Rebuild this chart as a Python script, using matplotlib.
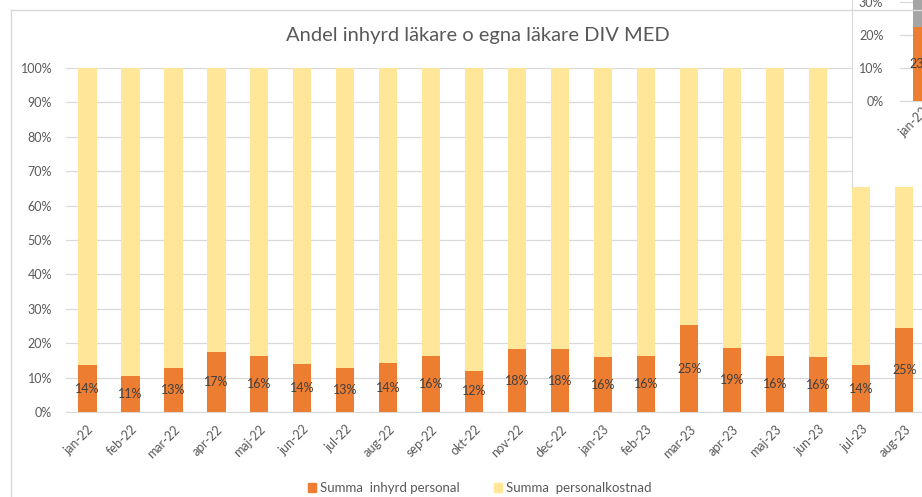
import matplotlib.pyplot as plt
from matplotlib.patches import Patch
from matplotlib.ticker import PercentFormatter

plt.rcParams['font.family'] = ['Lato', 'DejaVu Sans']

months = ["jan-22", "feb-22", "mar-22", "apr-22", "maj-22", "jun-22", "jul-22",
          "aug-22", "sep-22", "okt-22", "nov-22", "dec-22", "jan-23", "feb-23",
          "mar-23", "apr-23", "maj-23", "jun-23", "jul-23", "aug-23"]
inhyrd = [0.136, 0.106, 0.128, 0.174, 0.162, 0.140, 0.128, 0.141, 0.163, 0.120,
          0.182, 0.182, 0.159, 0.163, 0.252, 0.187, 0.163, 0.159, 0.136, 0.245]
labels = ["14%", "11%", "13%", "17%", "16%", "14%", "13%", "14%", "16%", "12%",
          "18%", "18%", "16%", "16%", "25%", "19%", "16%", "16%", "14%", "25%"]
egna = [1 - v for v in inhyrd]

# the chart window lying over the top right corner
over_cat = ["jan-22"]
over_inhyrd = [0.225]
over_label = ["23%"]
over_rest = [0.2]

ORANGE = "#ED7D31"
YELLOW = "#FFE699"
GREY = "#A5A5A5"
GRID = "#D9D9D9"
TXT = "#595959"

W, H = 922, 497
fig = plt.figure(figsize=(W / 100, H / 100), dpi=100)

def box(x0, y0, x1, y1):
    return [x0 / W, 1 - y1 / H, (x1 - x0) / W, (y1 - y0) / H]

ax = fig.add_axes(box(66, 68, 922, 412))
x = range(len(months))
ax.bar(x, inhyrd, width=0.42, color=ORANGE, zorder=3)
ax.bar(x, egna, bottom=inhyrd, width=0.42, color=YELLOW, zorder=3)
for i, v in enumerate(inhyrd):
    ax.text(i, v / 2, labels[i], ha="center", va="center", fontsize=9,
            color="#404040", zorder=4)

ax.set_xlim(-0.5, 19.41)
ax.set_ylim(0, 1)
ax.set_yticks([i / 10 for i in range(11)])
ax.yaxis.set_major_formatter(PercentFormatter(1.0, decimals=0))
ax.set_xticks(list(x))
ax.set_xticklabels(months, rotation=45, ha="right", rotation_mode="anchor")
ax.tick_params(axis="both", length=0, labelsize=9, colors=TXT)
ax.tick_params(axis="y", pad=10)
ax.tick_params(axis="x", pad=8)
ax.grid(axis="y", color=GRID, linewidth=0.9, zorder=0)
for s in ["top", "right", "left"]:
    ax.spines[s].set_visible(False)
ax.spines["bottom"].set_color(GRID)

fig.text(478 / W, 1 - 35 / H, "Andel inhyrd läkare o egna läkare DIV MED",
         ha="center", va="center", fontsize=14.5, color=TXT)

fig.legend(handles=[Patch(color=ORANGE, label="Summa  inhyrd personal"),
                    Patch(color=YELLOW, label="Summa  personalkostnad")],
           loc="center", bbox_to_anchor=(0.52, 1 - 488 / H), ncol=2, frameon=False,
           fontsize=9.5, handlelength=0.6, handleheight=0.6, handletextpad=0.3,
           columnspacing=2.6, labelcolor=TXT)

# chart border
fig.add_artist(plt.Line2D([11 / W, 11 / W], [0, 1 - 10 / H], color=GRID, lw=1))
fig.add_artist(plt.Line2D([11 / W, 1], [1 - 10 / H, 1 - 10 / H], color=GRID, lw=1))

# overlapping chart in the corner
cover = fig.add_axes(box(852, 0, 922, 187))
cover.set_facecolor("white")
cover.set_xticks([])
cover.set_yticks([])
for s in ["top", "right", "bottom"]:
    cover.spines[s].set_visible(False)
cover.spines["left"].set_color(GRID)

ax2 = fig.add_axes(box(900, 0, 922, 101))
ax2.bar(range(1), over_inhyrd, width=0.42, color=ORANGE, zorder=3)
ax2.bar(range(1), over_rest, bottom=over_inhyrd, width=0.42, color=GREY, zorder=3)
ax2.text(0, over_inhyrd[0] / 2, over_label[0], ha="center", va="center",
         fontsize=9, color="#404040", zorder=4)
ax2.set_xlim(-0.5, 0)
ax2.set_ylim(0, 0.306)
ax2.set_yticks([0, 0.1, 0.2, 0.3])
ax2.yaxis.set_major_formatter(PercentFormatter(1.0, decimals=0))
ax2.set_xticks([0])
ax2.set_xticklabels(over_cat, rotation=45, ha="right", rotation_mode="anchor")
ax2.tick_params(axis="both", length=0, labelsize=9, colors=TXT)
ax2.tick_params(axis="y", pad=12)
ax2.grid(axis="y", color=GRID, linewidth=0.9, zorder=0)
for s in ["top", "right", "left"]:
    ax2.spines[s].set_visible(False)
ax2.spines["bottom"].set_color(GRID)

fig.savefig("out.png", dpi=100)
